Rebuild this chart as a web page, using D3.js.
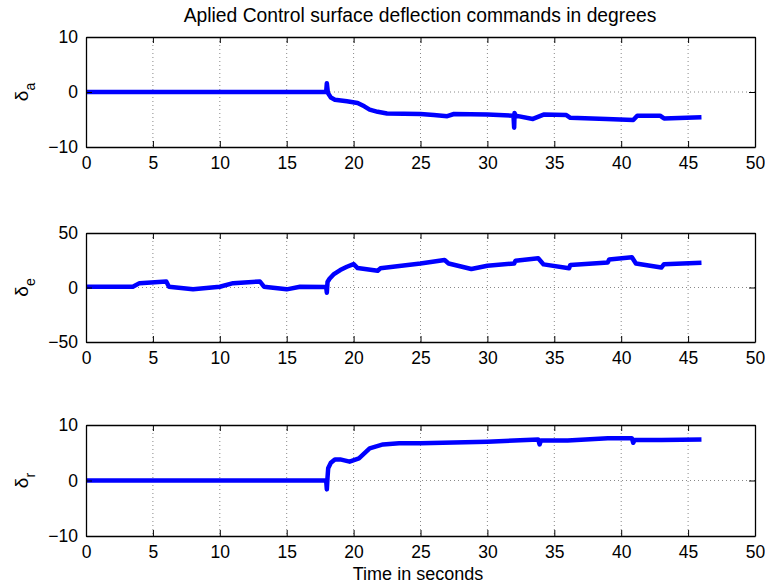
<!DOCTYPE html>
<html>
<head>
<meta charset="utf-8">
<script src="https://cdn.jsdelivr.net/npm/d3@7"></script>
<style>
  body { margin: 0; background: #fff; }
  text { font-family: "Liberation Sans", Arial, Helvetica, sans-serif; fill: #000; }
</style>
</head>
<body>
<svg id="chart" width="765" height="587"></svg>
<script>
// time stamps (s) and deflections (deg)
var timeA = [0, 17.95, 18.0, 18.08, 18.3, 18.6, 19.5, 20.3, 20.8, 21.2, 21.8, 22.5, 25, 26, 27, 27.5, 30, 31.95, 32.0, 32.03, 32.1, 33.4, 34.2, 35.9, 36.2, 38.9, 40.9, 41.2, 42.9, 43.2, 46];
var deltaA = [0, 0, 1.6, -0.2, -1.0, -1.4, -1.7, -2.0, -2.6, -3.2, -3.6, -3.9, -4.0, -4.2, -4.4, -4.0, -4.1, -4.3, -6.5, -3.8, -4.3, -4.9, -4.1, -4.2, -4.7, -4.9, -5.1, -4.3, -4.3, -4.8, -4.6];

var timeE = [0, 3.5, 4, 6, 6.2, 8, 10, 11, 13, 13.3, 15, 16, 17.95, 18.0, 18.05, 18.2, 18.5, 19, 19.5, 20, 20.3, 21.8, 22, 25, 26.8, 27.1, 28.8, 30, 32, 32.1, 33.8, 34.2, 36.1, 36.2, 39, 39.1, 40.8, 41.1, 43, 43.2, 46];
var deltaE = [0.7, 0.7, 4, 5.5, 0.7, -1.7, 0.7, 4, 5.5, 0.7, -1.7, 0.7, 0.5, -4.8, 5, 8, 12, 16, 19, 21.5, 17.8, 15.4, 17.6, 22, 25.2, 22, 17, 20, 22, 24.5, 26.8, 21.2, 17.6, 20.7, 23, 25.7, 27.7, 22, 18.3, 21.4, 22.6];

var timeR = [0, 17.95, 18.0, 18.05, 18.1, 18.3, 18.6, 19, 19.7, 20.4, 21.2, 22.2, 23.4, 25, 30, 32, 33.8, 33.9, 34.0, 36, 39, 40.8, 40.9, 41.0, 43, 46];
var deltaR = [0, 0, -1.6, 0.5, 2.2, 3.2, 3.8, 3.8, 3.4, 4.0, 5.8, 6.5, 6.7, 6.7, 7.0, 7.2, 7.4, 6.5, 7.2, 7.2, 7.6, 7.6, 6.8, 7.3, 7.3, 7.4];

var xTicks = [0, 5, 10, 15, 20, 25, 30, 35, 40, 45, 50];
var yTicksA = [-10, 0, 10];
var yTicksE = [-50, 0, 50];
var yTicksR = [-10, 0, 10];

var titleText = "Aplied Control surface deflection commands in degrees";
var xLabel = "Time in seconds";

var svg = d3.select("#chart");
var left = 86, right = 755;

var panels = [
    {t: timeA, v: deltaA, ticks: yTicksA, sub: "a", top: 37, bottom: 147},
    {t: timeE, v: deltaE, ticks: yTicksE, sub: "e", top: 233, bottom: 342},
    {t: timeR, v: deltaR, ticks: yTicksR, sub: "r", top: 425, bottom: 536}
];

var x = d3.scaleLinear().domain([0, 50]).range([left, right]);

panels.forEach(function(p) {
    var y = d3.scaleLinear()
        .domain([p.ticks[0], p.ticks[p.ticks.length - 1]])
        .range([p.bottom, p.top]);
    var g = svg.append("g");

    // dotted grid
    g.append("g").selectAll("line")
        .data(xTicks.slice(1, -1))
        .enter().append("line")
        .attr("x1", function(d) { return x(d); })
        .attr("x2", function(d) { return x(d); })
        .attr("y1", p.top).attr("y2", p.bottom)
        .attr("stroke", "#888").attr("stroke-width", 1)
        .attr("stroke-dasharray", "1,3");
    g.append("g").selectAll("line")
        .data(p.ticks.slice(1, -1))
        .enter().append("line")
        .attr("y1", function(d) { return y(d); })
        .attr("y2", function(d) { return y(d); })
        .attr("x1", left).attr("x2", right)
        .attr("stroke", "#888").attr("stroke-width", 1)
        .attr("stroke-dasharray", "1,3");

    // data line
    var pts = p.t.map(function(d, i) { return [d, p.v[i]]; });
    g.append("path")
        .datum(pts)
        .attr("fill", "none")
        .attr("stroke", "#0000ff")
        .attr("stroke-width", 4.5)
        .attr("stroke-linejoin", "round")
        .attr("d", d3.line()
            .x(function(d) { return x(d[0]); })
            .y(function(d) { return y(d[1]); }));

    // axes, matlab style: ticks inside on all four sides
    var tick = 6;
    g.append("g")
        .attr("transform", "translate(0," + p.bottom + ")")
        .call(d3.axisBottom(x).tickValues(xTicks).tickSizeInner(-tick).tickSizeOuter(0).tickPadding(10));
    g.append("g")
        .attr("transform", "translate(0," + p.top + ")")
        .call(d3.axisTop(x).tickValues(xTicks).tickSizeInner(-tick).tickSizeOuter(0).tickFormat(""));
    g.append("g")
        .attr("transform", "translate(" + left + ",0)")
        .call(d3.axisLeft(y).tickValues(p.ticks).tickSizeInner(-tick).tickSizeOuter(0).tickPadding(8)
            .tickFormat(function(d) { return d < 0 ? "\u2212" + Math.abs(d) : d; }));
    g.append("g")
        .attr("transform", "translate(" + right + ",0)")
        .call(d3.axisRight(y).tickValues(p.ticks).tickSizeInner(-tick).tickSizeOuter(0).tickFormat(""));

    g.selectAll(".domain").attr("stroke", "#000").attr("stroke-width", 1.3);
    g.selectAll(".tick line").attr("stroke", "#000").attr("stroke-width", 1);
    g.selectAll(".tick text")
        .style("font-family", "'Liberation Sans', Arial, Helvetica, sans-serif")
        .attr("font-size", 17.5).attr("fill", "#000");

    // y label with subscript
    var yl = g.append("text")
        .attr("transform", "translate(28," + ((p.top + p.bottom) / 2) + ") rotate(-90)")
        .attr("text-anchor", "middle")
        .attr("font-size", 19);
    yl.append("tspan").text("\u03b4");
    yl.append("tspan").attr("font-size", 14).attr("dy", 7).text(p.sub);
});

svg.append("text")
    .attr("x", 420).attr("y", 22)
    .attr("text-anchor", "middle")
    .attr("font-size", 19.3)
    .text(titleText);

svg.append("text")
    .attr("x", 418).attr("y", 580)
    .attr("text-anchor", "middle")
    .attr("font-size", 18)
    .text(xLabel);
</script>
</body>
</html>
